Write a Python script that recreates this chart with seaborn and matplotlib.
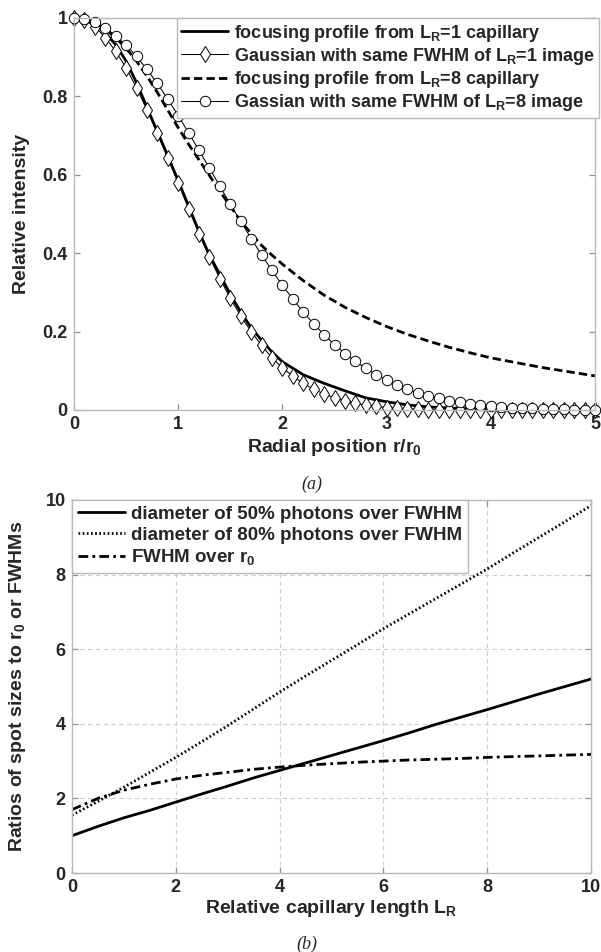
import numpy as np
import matplotlib
matplotlib.use("Agg")
import matplotlib.pyplot as plt
import seaborn as sns

# --- panel (a): radial intensity profiles ---
r_prof = [0, 0.1, 0.2, 0.3, 0.4, 0.5, 0.6, 0.7, 0.8, 0.9, 1.0, 1.1, 1.2, 1.3, 1.4,
          1.5, 1.6, 1.7, 1.8, 1.9, 2.0, 2.2, 2.4, 2.6, 2.8, 3.0, 3.2, 3.4, 3.6,
          3.8, 4.0, 4.5, 5.0]
prof_L1 = [1.0, 0.998, 0.985, 0.962, 0.932, 0.89, 0.835, 0.772, 0.71, 0.648, 0.585,
           0.52, 0.455, 0.395, 0.345, 0.295, 0.25, 0.21, 0.178, 0.148, 0.123, 0.09,
           0.068, 0.049, 0.031, 0.021, 0.013, 0.008, 0.005, 0.003, 0.002, 0.001, 0.001]
prof_L8 = [1.0, 0.997, 0.988, 0.972, 0.95, 0.923, 0.89, 0.852, 0.81, 0.765, 0.72,
           0.678, 0.638, 0.598, 0.558, 0.52, 0.482, 0.45, 0.42, 0.395, 0.372, 0.33,
           0.293, 0.262, 0.236, 0.213, 0.193, 0.176, 0.16, 0.146, 0.133, 0.108, 0.087]

r_gauss = np.linspace(0, 5, 51)
gauss_L1 = [1.0, 0.995, 0.978, 0.95, 0.915, 0.873, 0.822, 0.766, 0.706, 0.643, 0.579,
            0.514, 0.45, 0.39, 0.335, 0.285, 0.24, 0.2, 0.165, 0.133, 0.108, 0.086,
            0.068, 0.053, 0.041, 0.031, 0.023, 0.017, 0.012, 0.009, 0.006, 0.004,
            0.003, 0.002, 0.001, 0.001, 0, 0, 0, 0, 0, 0, 0, 0, 0, 0, 0, 0, 0, 0, 0]
gauss_L8 = [1.0, 0.997, 0.989, 0.975, 0.955, 0.931, 0.902, 0.869, 0.833, 0.793, 0.751,
            0.707, 0.662, 0.617, 0.571, 0.525, 0.481, 0.437, 0.396, 0.356, 0.318,
            0.283, 0.25, 0.22, 0.192, 0.167, 0.144, 0.124, 0.106, 0.09, 0.076, 0.064,
            0.053, 0.044, 0.036, 0.03, 0.024, 0.02, 0.016, 0.013, 0.01, 0.008, 0.006,
            0.005, 0.004, 0.003, 0.002, 0.002, 0.001, 0.001, 0.001]

# --- panel (b): spot size ratios vs capillary length ---
L_R = [0, 0.5, 1, 1.5, 2, 2.5, 3, 3.5, 4, 4.5, 5, 5.5, 6, 6.5, 7, 7.5, 8, 8.5, 9, 9.5, 10]
d50 = [1.0, 1.25, 1.48, 1.68, 1.9, 2.12, 2.33, 2.55, 2.75, 2.95, 3.15, 3.35, 3.55,
       3.76, 3.98, 4.18, 4.38, 4.59, 4.8, 5.0, 5.2]
d80 = [1.55, 1.92, 2.3, 2.7, 3.1, 3.52, 3.95, 4.4, 4.85, 5.28, 5.7, 6.12, 6.55, 6.95,
       7.35, 7.75, 8.15, 8.58, 9.0, 9.42, 9.85]
fwhm = [1.7, 2.0, 2.22, 2.38, 2.52, 2.62, 2.7, 2.78, 2.84, 2.89, 2.93, 2.97, 3.0,
        3.03, 3.05, 3.07, 3.1, 3.12, 3.14, 3.16, 3.18]

sns.set_style("ticks")
plt.rcParams['font.family'] = ['Liberation Sans', 'DejaVu Sans']
plt.rcParams['font.weight'] = 'bold'
plt.rcParams['axes.labelweight'] = 'bold'
plt.rcParams['mathtext.default'] = 'regular'

fig = plt.figure(figsize=(6.01, 9.52), dpi=100)
W, H = 601, 952
SPINE = '#b8b8b8'


def place(left, top, right, bottom):
    return [left / W, 1 - bottom / H, (right - left) / W, (bottom - top) / H]


def style_axes(ax):
    for sp in ax.spines.values():
        sp.set_color(SPINE)
        sp.set_linewidth(1.0)
    ax.tick_params(direction='in', length=4, width=0.9, color='#909090',
                   top=True, right=True, labelsize=13, pad=4.5)
    for lab in ax.get_xticklabels() + ax.get_yticklabels():
        lab.set_fontweight('bold')


# (a)
ax1 = fig.add_axes(place(74, 18, 595, 410))
sns.lineplot(x=r_prof, y=prof_L1, ax=ax1, color='black', linewidth=2.0,
             label='focusing profile from L$_R$=1 capillary')
sns.lineplot(x=r_gauss, y=gauss_L1, ax=ax1, color='black', linewidth=0.75,
             marker='d', markersize=8.5, markerfacecolor='white',
             markeredgecolor='black', markeredgewidth=0.7, clip_on=False,
             label='Gaussian with same FWHM of L$_R$=1 image')
sns.lineplot(x=r_prof, y=prof_L8, ax=ax1, color='black', linewidth=2.0,
             linestyle=(0, (3, 1.5)),
             label='focusing profile from L$_R$=8 capillary')
sns.lineplot(x=r_gauss, y=gauss_L8, ax=ax1, color='black', linewidth=0.75,
             marker='o', markersize=7.5, markerfacecolor='white',
             markeredgecolor='black', markeredgewidth=0.7, clip_on=False,
             label='Gassian with same FWHM of L$_R$=8 image')
ax1.set_xlim(0, 5)
ax1.set_ylim(0, 1)
ax1.set_xticks([0, 1, 2, 3, 4, 5])
ax1.set_yticks([0, 0.2, 0.4, 0.6, 0.8, 1])
ax1.set_yticklabels(['0', '0.2', '0.4', '0.6', '0.8', '1'])
ax1.set_xlabel('Radial position r/r$_0$', fontsize=14, labelpad=3)
ax1.set_ylabel('Relative intensity', fontsize=14)
ax1.yaxis.set_label_coords(-0.085, 0.5)
style_axes(ax1)
leg1 = ax1.legend(loc='upper left', bbox_to_anchor=(0.197, 1.0), borderaxespad=0,
                  fontsize=13, handlelength=2.6, handletextpad=0.3,
                  labelspacing=0.12, borderpad=0.25, frameon=True, fancybox=False,
                  framealpha=1, edgecolor=SPINE)
leg1.get_frame().set_linewidth(1.0)
for t in leg1.get_texts():
    t.set_fontweight('bold')

# (b)
ax2 = fig.add_axes(place(72, 500, 591, 873))
sns.lineplot(x=L_R, y=d50, ax=ax2, color='black', linewidth=2.0,
             label='diameter of 50% photons over FWHM')
sns.lineplot(x=L_R, y=d80, ax=ax2, color='black', linewidth=2.0,
             linestyle=(0, (0.6, 0.9)),
             label='diameter of 80% photons over FWHM')
sns.lineplot(x=L_R, y=fwhm, ax=ax2, color='black', linewidth=2.0,
             linestyle=(0, (3.5, 1.5, 1, 1.5)),
             label='FWHM over r$_0$')
ax2.set_xlim(0, 10)
ax2.set_ylim(0, 10)
ax2.set_xticks([0, 2, 4, 6, 8, 10])
ax2.set_yticks([0, 2, 4, 6, 8, 10])
ax2.grid(True, color='#cccccc', linestyle=(0, (4, 3)), linewidth=0.8)
ax2.set_axisbelow(True)
ax2.set_xlabel('Relative capillary length L$_R$', fontsize=14, labelpad=1.5)
ax2.set_ylabel('Ratios of spot sizes to r$_0$ or FWHMs', fontsize=14)
ax2.yaxis.set_label_coords(-0.085, 0.5)
style_axes(ax2)
leg2 = ax2.legend(loc='upper left', bbox_to_anchor=(0.0, 1.0), borderaxespad=0,
                  fontsize=13.5, handlelength=2.5, handletextpad=0.35,
                  labelspacing=0.2, borderpad=0.3, frameon=True, fancybox=False,
                  framealpha=1, edgecolor=SPINE)
leg2.get_frame().set_linewidth(1.0)
for t in leg2.get_texts():
    t.set_fontweight('bold')

fig.text(312 / W, 1 - 484 / H, '(a)', family='Liberation Serif', style='italic',
         fontweight='normal', fontsize=13, ha='center', va='center')
fig.text(307 / W, 1 - 944 / H, '(b)', family='Liberation Serif', style='italic',
         fontweight='normal', fontsize=13, ha='center', va='center')

fig.savefig('out.png', dpi=100)
